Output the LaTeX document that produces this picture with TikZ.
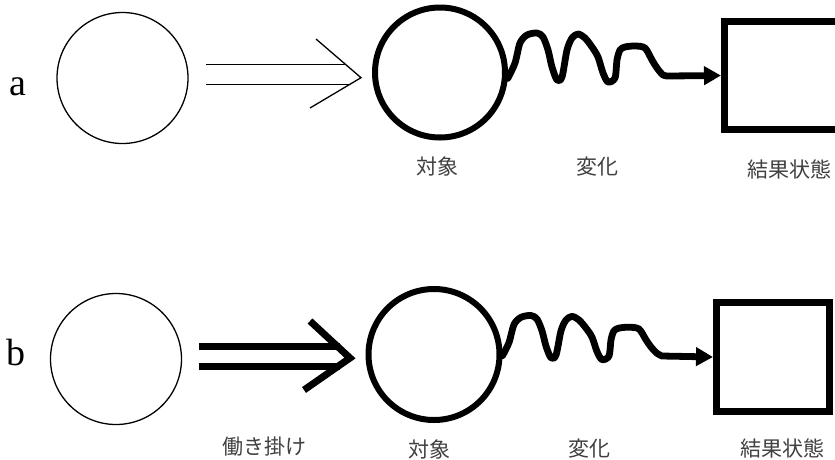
\documentclass[tikz,border=0pt]{standalone}
\usepackage{fontspec}
\newfontfamily\cjk{Noto Sans CJK JP}
\newfontfamily\tms{Liberation Serif}
\usetikzlibrary{arrows.meta}
\tikzset{
  thinline/.style={line width=1.3pt, line join=miter},
  thickline/.style={line width=7pt, line join=miter, line cap=butt},
  plaincirc/.style={circle, draw, line width=1.3pt, minimum size=131pt, inner sep=0pt},
  boldcirc/.style={circle, draw, line width=6pt, minimum size=130pt, inner sep=0pt},
  resultbox/.style={rectangle, draw, line width=7pt, inner sep=0pt},
  wave/.style={line width=6.8pt, line join=round, line cap=round},
  wavearrow/.style={-{Triangle[length=17pt,width=18pt]}},
  lbl/.style={font=\cjk\fontsize{21pt}{21pt}\selectfont, text=black!75, inner sep=0pt},
  panel/.style={font=\tms\fontsize{38pt}{38pt}\selectfont, inner sep=0pt}
}
\begin{document}
\begin{tikzpicture}[x=1pt,y=-1pt]
\useasboundingbox (0,0) rectangle (835,459);
\fill[white] (0,0) rectangle (835,459);
\clip (0,0) rectangle (835,459);

% ---------------- panel a ----------------
\node[panel, anchor=base] (la) at (17.5,95) {a};
\node[plaincirc] (srcA) at (122.5,78) {};
\node[boldcirc] (objA) at (440,72.5) {};
\node[resultbox, minimum width=135.5pt, minimum height=108pt] (boxA) at (792.25,75.5) {};

\coordinate (a1s) at (206,64.3);
\coordinate (a1e) at (345.5,64.3);
\coordinate (a2s) at (206,84.3);
\coordinate (a2e) at (350,84.3);
\coordinate (ahU) at (316,39);
\coordinate (tipA) at (361,77.7);
\coordinate (ahL) at (310,108);
\draw[thinline] (a1s) -- (a1e);
\draw[thinline] (a2s) -- (a2e);
\draw[thinline] (ahU) -- (tipA) -- (ahL);

\draw[wave, wavearrow] plot[smooth, tension=0.5] coordinates {
  (objA.-5) (515,63) (520,43) (527,35) (537,33) (543,37) (548,50) (552,67)
  (557,80) (562,77) (567,50) (572,38) (578,34) (585,38) (592,47) (598,57)
  (603,73) (608,82) (615,78) (617,60) (620,50) (625,47) (635,46) (645,48)
  (652,60) (657,68) (663,75) (668,76)} -- (boxA.west);

\node[lbl] (tObjA) at (437,167) {対象};
\node[lbl] (tChgA) at (597,167) {変化};
\node[lbl] (tResA) at (789,169) {結果状態};

% ---------------- panel b ----------------
\node[panel, anchor=base west] (lb) at (6,365) {b};
\node[plaincirc] (srcB) at (116,359) {};
\node[boldcirc, minimum size=131pt] (objB) at (434,354.5) {};
\node[resultbox, minimum width=113pt, minimum height=109pt] (boxB) at (773,357) {};

\coordinate (b1s) at (199,346.5);
\coordinate (b1e) at (340,346.5);
\coordinate (b2s) at (199,366.5);
\coordinate (b2e) at (340,366.5);
\coordinate (bhU) at (310,321);
\coordinate (tipB) at (350,358);
\coordinate (bhL) at (304,390);
\draw[thickline] (b1s) -- (b1e);
\draw[thickline] (b2s) -- (b2e);
\draw[thickline] (bhU) -- (tipB) -- (bhL);

\draw[wave, wavearrow] plot[smooth, tension=0.5] coordinates {
  (objB.-1) (509,342.5) (514,324.5) (521,317.3) (531,315.5) (537,319.1) (542,330.8)
  (546,346.1) (551,357.8) (556,355.1) (561,330.8) (566,320) (572,316.4) (579,320)
  (586,328.1) (592,337.1) (597,351.5) (602,359.6) (609,356) (611,339.8) (614,330.8)
  (619,328.1) (629,327.2) (639,329) (646,339.8) (651,347) (657,353.3) (662,356)}
  -- (boxB.west);

\node[lbl] (tActB) at (264,447) {働き掛け};
\node[lbl] (tObjB) at (429,449) {対象};
\node[lbl] (tChgB) at (589,449) {変化};
\node[lbl] (tResB) at (782.5,448) {結果状態};
\end{tikzpicture}
\end{document}
